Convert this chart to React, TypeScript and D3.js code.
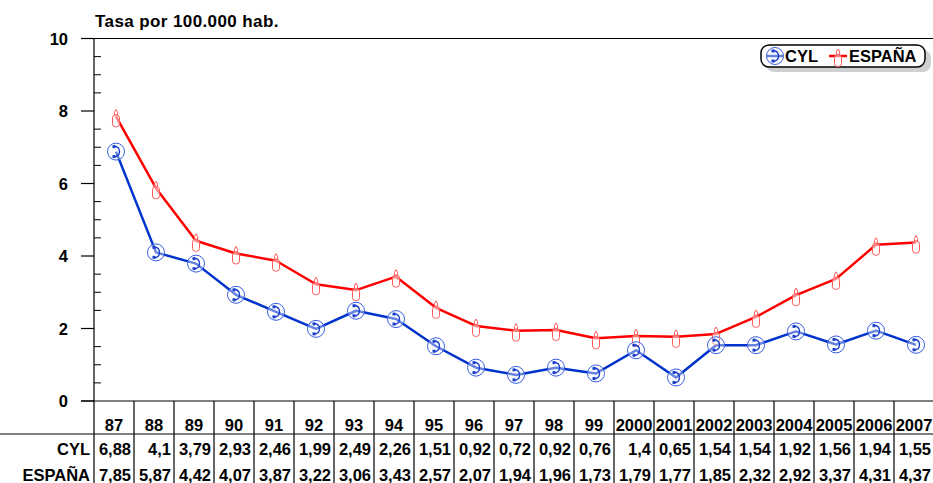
import * as d3 from "d3";

const YEARS = ["87", "88", "89", "90", "91", "92", "93", "94", "95", "96", "97", "98", "99", "2000", "2001", "2002", "2003", "2004", "2005", "2006", "2007"];
const CYL = [6.88, 4.1, 3.79, 2.93, 2.46, 1.99, 2.49, 2.26, 1.51, 0.92, 0.72, 0.92, 0.76, 1.4, 0.65, 1.54, 1.54, 1.92, 1.56, 1.94, 1.55];
const ESPANA = [7.85, 5.87, 4.42, 4.07, 3.87, 3.22, 3.06, 3.43, 2.57, 2.07, 1.94, 1.96, 1.73, 1.79, 1.77, 1.85, 2.32, 2.92, 3.37, 4.31, 4.37];
const Y_TICKS = [0, 2, 4, 6, 8, 10];

const W = 933;
const H = 483;
const FONT = "Arial, 'Liberation Sans', sans-serif";
const BLUE = "#0033cc";
const RED = "#ff0000";
const FS = 16.5;

const fmt = (v: number) => String(v).replace(".", ",");

function PhoneMarker({ x, y }: { x: number; y: number }) {
  return (
    <g transform={`translate(${x},${y})`}>
      <circle r={8.5} fill="white" fillOpacity={0.4} stroke="#3a5fe0" strokeWidth={1} />
      <path d="M-2,-5.5 Q3.5,-5 3.5,0 Q3.5,5 -2,5.5" fill="none" stroke="#1a3fcc" strokeWidth={1.4} />
      <rect x={-3.5} y={-6.5} width={3} height={3} fill="#1a3fcc" />
      <rect x={-3.5} y={3.5} width={3} height={3} fill="#1a3fcc" />
    </g>
  );
}

function CandleMarker({ x, y }: { x: number; y: number }) {
  return (
    <g transform={`translate(${x},${y})`} fill="white" fillOpacity={0.5} stroke="#ff5a5a" strokeWidth={1}>
      <path d="M0,-7 Q2.5,-4 1.5,-1.5 L-1.5,-1.5 Q-2.5,-4 0,-7 Z" />
      <rect x={-3.5} y={-1.5} width={7} height={12} rx={3} />
    </g>
  );
}

export default function App() {
  const x = d3.scaleBand<string>().domain(YEARS).range([94, 934]);
  const y = d3.scaleLinear().domain([0, 10]).range([401, 38.5]);
  const cx = (i: number) => (x(YEARS[i]) as number) + x.bandwidth() / 2 + 2;
  const line = d3.line<number>().x((_, i) => cx(i)).y((d) => y(d));
  const minor = d3.range(0, 10.01, 0.5).filter((v) => v % 2 !== 0);

  return (
    <svg width={W} height={H} style={{ position: "absolute", left: 0, top: 0, background: "white" }} fontFamily={FONT}>
      <text x={95} y={27} fontSize={17} fontWeight="bold" letterSpacing={0.4}>Tasa por 100.000 hab.</text>

      {/* frame */}
      <line x1={81} x2={W} y1={y(10)} y2={y(10)} stroke="black" strokeWidth={1.2} />
      <line x1={94} x2={94} y1={y(10)} y2={H} stroke="black" strokeWidth={1.2} />
      <line x1={81} x2={W} y1={y(0)} y2={y(0)} stroke="black" strokeWidth={1.2} />

      {Y_TICKS.map((t) => (
        <g key={t}>
          <line x1={81} x2={94} y1={y(t)} y2={y(t)} stroke="black" strokeWidth={1.2} />
          <text x={68} y={y(t) + 6} textAnchor="end" fontSize={FS} fontWeight="bold">{t}</text>
        </g>
      ))}
      {minor.map((t) => (
        <line key={t} x1={94} x2={101} y1={y(t)} y2={y(t)} stroke="black" strokeWidth={1} />
      ))}

      {/* series */}
      <path d={line(ESPANA) ?? ""} fill="none" stroke={RED} strokeWidth={2.5} strokeLinejoin="round" />
      <path d={line(CYL) ?? ""} fill="none" stroke={BLUE} strokeWidth={2.5} strokeLinejoin="round" />
      {ESPANA.map((v, i) => <CandleMarker key={i} x={cx(i)} y={y(v)} />)}
      {CYL.map((v, i) => <PhoneMarker key={i} x={cx(i)} y={y(v)} />)}

      {/* legend */}
      <rect x={766} y={50} width={165} height={22} rx={8} fill="#d0d0d0" />
      <rect x={761} y={45} width={164} height={22} rx={8} fill="white" stroke="black" strokeWidth={1.5} />
      <line x1={767} x2={783} y1={56} y2={56} stroke={BLUE} strokeWidth={2.5} />
      <PhoneMarker x={775} y={56} />
      <text x={785} y={62} fontSize={FS} fontWeight="bold">CYL</text>
      <line x1={829} x2={847} y1={56} y2={56} stroke={RED} strokeWidth={2.5} />
      <CandleMarker x={838} y={56} />
      <text x={849} y={62} fontSize={FS} fontWeight="bold">ESPAÑA</text>

      {/* data table */}
      <line x1={0} x2={W} y1={434} y2={434} stroke="black" strokeWidth={1.2} />
      {YEARS.map((yr, i) => {
        const x0 = x(yr) as number;
        const x1 = x0 + x.bandwidth();
        return (
          <g key={yr} fontSize={FS} fontWeight="bold">
            <line x1={x1} x2={x1} y1={y(0)} y2={H} stroke="black" strokeWidth={1.2} />
            <text x={x0 + x.bandwidth() / 2} y={431} textAnchor="middle">{yr}</text>
            <text x={x1 - 3} y={455} textAnchor="end">{fmt(CYL[i])}</text>
            <text x={x1 - 3} y={481} textAnchor="end">{fmt(ESPANA[i])}</text>
          </g>
        );
      })}
      <text x={90} y={455} textAnchor="end" fontSize={FS} fontWeight="bold">CYL</text>
      <text x={90} y={481} textAnchor="end" fontSize={FS} fontWeight="bold">ESPAÑA</text>
    </svg>
  );
}
